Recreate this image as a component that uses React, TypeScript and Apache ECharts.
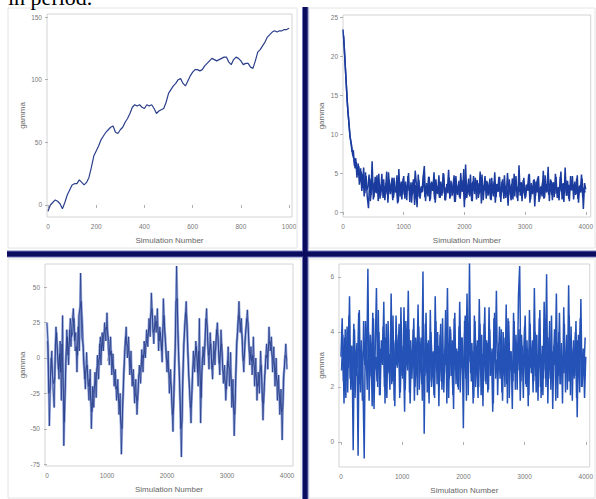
import { useEffect, useRef } from 'react';
import * as echarts from 'echarts';

const headerText = 'in period.';
const xName = 'Simulation Number';
const yName = 'gamma';

// Top-left trace: gamma every 10 simulations (0..1000)
const tlValues = [
  -5, 0, 2, 4, 3, 1, -3, 2, 8, 12,
  16, 17, 17, 20, 18, 16, 18, 22, 30, 39,
  43, 47, 52, 55, 58, 60, 62, 63, 58, 57,
  60, 62, 66, 69, 73, 78, 80, 79, 80, 78,
  77, 80, 79, 80, 77, 73, 75, 76, 77, 82,
  89, 92, 95, 97, 100, 101, 97, 95, 99, 103,
  106, 108, 108, 107, 108, 111, 113, 115, 117, 116,
  115, 116, 117, 118, 118, 114, 112, 116, 118, 117,
  115, 112, 113, 113, 110, 109, 115, 122, 124, 127,
  130, 134, 136, 138, 139, 138, 139, 139, 140, 140,
  141,
];

// Top-right trace: gamma at simulations 0, 20, 40 ... 4000
const trValuesEven = [
  23.4, 21.2, 18.3, 15.6, 12.9, 11.2, 9.4, 8.6, 7.3, 6.8,
  5.6, 6.4, 4.8, 5.9, 3.9, 5.2, 3.1, 5.7, 2.4, 4.6,
  1.9, 0.5, 4.3, 2.2, 6.5, 1.6, 3.8, 2.5, 4.7, 1.4,
  3.6, 2.1, 4.9, 1.8, 3.3, 2.6, 5.2, 1.2, 4.1, 2.3,
  3.7, 1.5, 4.4, 2.8, 3.2, 1.1, 5.5, 2.0, 3.9, 2.4,
  4.6, 1.7, 3.4, 2.9, 5.0, 1.3, 3.8, 2.2, 4.2, 0.9,
  3.5, 0.6, 4.8, 1.9, 3.1, 2.5, 4.4, 5.9, 1.4, 3.7,
  2.0, 4.5, 1.6, 3.9, 2.7, 5.1, 1.2, 3.4, 2.3, 4.7,
  1.8, 3.6, 2.4, 4.9, 1.5, 3.2, 2.8, 5.4, 1.7, 4.0,
  2.1, 3.8, 1.3, 4.6, 2.5, 3.3, 1.9, 5.0, 2.6, 4.1,
  0.6, 6.1, 1.8, 3.5, 2.2, 4.8, 1.4, 3.9, 2.7, 4.4,
  1.6, 3.7, 2.3, 5.2, 1.1, 3.4, 2.9, 4.6, 1.7, 3.8,
  2.4, 4.3, 1.5, 3.6, 2.0, 5.1, 1.9, 3.2, 2.6, 4.5,
  1.3, 3.9, 2.5, 4.7, 1.8, 3.4, 0.8, 4.2, 2.2, 3.6,
  1.6, 4.9, 2.7, 3.3, 1.4, 6.0, 2.1, 3.8, 2.4, 4.4,
  1.7, 3.5, 2.9, 4.8, 1.2, 3.7, 2.3, 4.1, 0.7, 3.9,
  2.5, 4.6, 1.6, 3.3, 2.0, 5.3, 1.8, 3.6, 2.6, 5.8,
  1.4, 4.2, 2.2, 3.8, 1.9, 4.9, 2.4, 3.1, 1.5, 4.5,
  2.7, 3.6, 1.3, 5.7, 2.1, 4.0, 1.7, 3.5, 2.8, 4.6,
  1.6, 3.9, 2.3, 4.7, 1.2, 3.4, 2.5, 4.3, 0.4, 3.7,
  2.9,
];
// Top-right trace: gamma at simulations 10, 30, 50 ... 3990
const trValuesOdd = [
  22.6, 19.8, 17.0, 14.1, 12.2, 10.1, 9.0, 7.7, 7.9, 5.9,
  6.9, 4.4, 6.2, 3.5, 5.6, 2.7, 4.9, 2.0, 5.1, 2.8,
  3.2, 4.8, 1.4, 2.9, 3.6, 1.9, 4.5, 2.4, 3.1, 4.9,
  1.7, 3.4, 2.6, 4.2, 1.5, 3.7, 2.3, 5.1, 2.8, 3.3,
  4.4, 1.8, 3.0, 2.5, 4.7, 1.3, 3.6, 2.9, 1.6, 4.3,
  2.2, 3.9, 1.5, 4.6, 2.7, 3.2, 1.2, 3.8, 2.4, 5.3,
  3.5, 2.0, 4.1, 1.7, 3.3, 2.6, 4.9, 1.9, 3.0, 2.3,
  4.5, 1.4, 3.7, 2.8, 3.4, 1.6, 4.2, 2.5, 3.1, 1.8,
  3.9, 2.1, 5.0, 2.7, 1.5, 3.6, 2.4, 4.4, 1.9, 3.3,
  2.9, 4.7, 1.3, 3.5, 2.2, 4.0, 1.7, 3.8, 2.6, 5.5,
  1.6, 3.2, 2.8, 4.3, 2.0, 3.7, 1.4, 4.6, 2.3, 3.4,
  4.1, 1.8, 3.0, 2.5, 4.8, 1.5, 3.5, 2.7, 4.0, 2.1,
  3.3, 1.6, 4.4, 2.4, 3.9, 1.2, 3.6, 2.9, 4.5, 1.9,
  2.6, 4.2, 1.7, 3.4, 2.2, 5.0, 2.8, 3.1, 1.5, 4.3,
  3.7, 2.0, 4.6, 1.8, 3.2, 2.6, 3.8, 1.4, 4.1, 2.3,
  1.9, 3.5, 2.7, 4.9, 1.6, 3.3, 2.4, 4.2, 2.0, 3.6,
  4.4, 1.3, 3.1, 2.8, 3.9, 1.7, 4.7, 2.5, 3.4, 2.2,
  2.9, 4.0, 1.5, 3.8, 2.3, 4.5, 1.8, 3.2, 2.6, 5.2,
  1.6, 3.7, 2.4, 4.1, 2.1, 3.5, 1.4, 4.6, 2.8, 3.0,
  3.6, 2.2, 4.3, 1.7, 3.3, 2.7, 4.8, 1.9, 3.1, 2.5,
];

// Bottom-left trace: gamma at simulations 0, 20 ... 4000
const blValuesEven = [
  25, 8, -48, -12, 5, -20, -35, 10, 18, 2,
  -15, 12, -30, 30, -62, -25, 5, 15, -5, 20,
  8, 25, 35, 12, 18, -10, 22, 5, 60, 15,
  10, -5, -22, 4, -15, -30, -8, -50, -20, -35,
  -10, -28, 2, -15, 10, -5, 18, 5, 25, 12,
  32, 8, -5, 15, -12, 3, -20, -8, -30, -15,
  -40, -25, -68, -35, -10, 8, 22, 0, 15, -12,
  5, -20, -8, -32, -15, -40, -22, -5, -18, 6,
  -10, 12, 0, 20, 8, 28, 15, 46, 25, 10,
  30, 18, 35, 5, 22, 12, -3, 42, 20, 8,
  -10, 5, -25, -8, -30, -52, -15, 10, 65, 20,
  -5, -30, -70, -20, 10, 25, 40, 15, -10, -25,
  -46, -18, 5, -10, 12, 2, -20, 28, -46, -10,
  8, -5, 20, 35, 10, -8, 18, 0, -15, 12,
  -5, 15, 25, 5, -12, 20, 2, -18, -5, -30,
  -12, 8, -20, 4, -35, -15, -55, -25, 10, 20,
  40, 18, 28, 5, -10, 12, 22, 34, 15, -5,
  8, -12, 15, -20, 0, -30, -10, -25, 5, -15,
  -44, -20, -5, 10, -8, 22, 5, 15, -10, 8,
  -20, 0, -30, -12, -40, -22, -58, -15, -5, 10,
  -8,
];
// Bottom-left trace: gamma at simulations 10, 30 ... 3990
const blValuesOdd = [
  12, -25, -22, 0, -12, -18, -15, 22, 5, -8,
  3, -10, 10, -20, -45, -12, 20, 2, 12, 28,
  15, 18, 28, 5, 8, 2, 30, 35, 40, 25,
  -2, -15, -8, -5, -20, -15, -30, -38, -25, -20,
  -18, -8, -5, 0, 15, 5, 12, 18, 20, 22,
  18, 12, 2, 5, -5, -8, -12, -22, -20, -28,
  -32, -45, -50, -25, -2, 15, 10, 8, 2, -5,
  -10, -15, -20, -25, -28, -30, -12, -10, -5, 2,
  0, 6, 10, 14, 18, 22, 30, 35, 18, 20,
  24, 26, 20, 12, 18, 5, 18, 30, 15, 0,
  -2, -10, -15, -20, -40, -35, -5, 40, 42, 8,
  -18, -50, -45, -5, 18, 32, 28, 2, -18, -35,
  -30, -8, -2, 2, 8, -10, 5, -10, -28, 0,
  2, 8, 28, 22, 2, 5, 10, -8, -2, 4,
  6, 20, 15, -4, 5, 10, -8, -12, -18, -22,
  -2, -6, -8, -15, -25, -35, -40, -8, 15, 30,
  28, 22, 16, -2, 2, 18, 28, 25, 5, 2,
  -2, 2, -5, -10, -15, -20, -18, -10, -5, -30,
  -32, -12, 2, 0, 8, 12, 10, 2, -2, -5,
  -10, -15, -20, -25, -32, -38, -35, -10, 2, 0,
];

// Bottom-right trace: gamma at simulations 0, 20 ... 4000
const brValuesEven = [
  3.1, 4.5, 2.2, 3.8, 1.6, 4.2, 2.7, 5.3, 1.9, 3.5,
  -0.3, 4.1, 2.4, 3.6, -0.5, 4.8, 1.8, 3.3, 2.1, -0.6,
  4.4, 2.6, 6.3, 1.5, 3.9, 2.3, 4.7, 1.2, 3.4, 5.6,
  2.0, 4.0, 1.7, 3.7, 2.8, 5.1, 1.4, 4.3, 2.5, 3.2,
  1.9, 5.4, 2.2, 3.6, 1.3, 4.6, 2.7, 3.9, 1.6, 4.9,
  2.4, 3.3, 1.1, 4.4, 2.9, 5.5, 1.8, 3.7, 2.3, 4.1,
  1.5, 3.8, 2.6, 5.0, 1.9, 3.5, 2.1, 6.2, 0.3, 4.3,
  2.5, 3.6, 1.4, 4.8, 2.0, 3.2, 1.7, 5.3, 2.6, 4.0,
  1.3, 3.9, 2.2, 4.5, 1.8, 3.4, 2.8, 5.6, 1.6, 4.2,
  2.4, 3.7, 1.2, 4.7, 2.1, 3.3, 1.9, 5.1, 2.7, 3.8,
  0.5, 4.4, 2.3, 5.4, 1.7, 6.5, 2.5, 3.6, 1.4, 4.6,
  2.0, 3.5, 1.6, 5.2, 2.6, 3.9, 1.3, 4.3, 2.2, 3.7,
  1.8, 4.9, 2.4, 3.2, 1.1, 4.5, 2.9, 5.5, 1.7, 3.6,
  2.3, 4.1, 1.5, 3.8, 2.0, 5.0, 1.4, 4.4, 2.6, 3.3,
  1.2, 4.7, 2.5, 3.9, 1.9, 5.3, 6.4, 2.2, 3.5, 1.6,
  4.2, 2.1, 3.7, 1.3, 4.8, 2.7, 3.4, 1.8, 5.6, 2.4,
  3.9, 1.5, 4.5, 2.0, 3.2, 1.7, 5.1, 2.6, 6.1, 1.4,
  3.8, 2.3, 4.6, 1.2, 3.5, 2.8, 5.4, 1.6, 4.0, 2.1,
  3.6, 1.4, 4.9, 2.5, 3.3, 1.9, 5.7, 2.2, 4.2, 1.5,
  3.7, 2.4, 4.4, 0.9, 3.9, 1.8, 5.2, 2.0, 3.4, 1.6,
  3.1,
];
// Bottom-right trace: gamma at simulations 10, 30 ... 3990
const brValuesOdd = [
  2.6, 3.9, 1.4, 4.1, 3.0, 1.8, 4.6, 2.3, 3.5, 2.0,
  4.3, 1.6, 3.2, 2.7, 4.7, 2.1, 3.7, 1.5, 4.4, 2.8,
  3.3, 1.9, 4.0, 2.4, 3.6, 1.3, 4.5, 2.6, 3.1, 2.2,
  4.8, 1.7, 3.4, 2.9, 4.2, 2.0, 3.8, 1.6, 4.4, 2.5,
  3.2, 2.1, 4.6, 1.5, 3.7, 2.8, 3.0, 4.3, 1.8, 3.5,
  2.3, 4.9, 1.9, 3.6, 2.6, 4.1, 1.4, 3.3, 2.7, 4.5,
  2.0, 3.4, 1.7, 4.2, 2.9, 3.8, 1.5, 3.1, 2.4, 4.7,
  1.8, 3.7, 2.2, 4.0, 2.8, 3.3, 1.6, 4.4, 2.1, 3.5,
  2.7, 4.3, 1.9, 3.2, 2.5, 4.8, 1.4, 3.6, 2.3, 4.1,
  3.0, 1.7, 4.5, 2.6, 3.4, 2.0, 4.2, 1.8, 3.8, 2.4,
  3.1, 4.6, 1.5, 3.5, 2.9, 4.0, 2.2, 3.3, 1.6, 4.4,
  2.5, 3.7, 2.0, 4.3, 1.7, 3.2, 2.8, 4.9, 2.1, 3.6,
  1.9, 4.1, 2.6, 3.4, 1.4, 4.7, 2.3, 3.0, 2.7, 4.2,
  3.5, 1.8, 4.0, 2.4, 3.8, 2.1, 4.5, 1.6, 3.3, 2.9,
  2.2, 4.4, 1.9, 3.6, 2.6, 4.1, 1.5, 3.9, 2.8, 3.2,
  4.6, 2.0, 3.4, 1.7, 4.3, 2.5, 3.7, 2.2, 4.0, 1.8,
  3.1, 2.7, 4.8, 1.6, 3.5, 2.3, 4.2, 2.0, 3.8, 2.6,
  4.4, 1.9, 3.3, 2.8, 4.1, 1.5, 3.6, 2.4, 4.7, 2.1,
  3.0, 2.5, 4.3, 1.8, 3.9, 2.2, 4.6, 1.7, 3.4, 2.9,
  2.3, 4.0, 1.6, 3.7, 2.7, 4.5, 2.0, 3.2, 2.6, 3.8,
];

const tlStep = 10;
const longStep = 20;

const tlTicksX = [0, 200, 400, 600, 800, 1000];
const tlTicksY = [0, 50, 100, 150];
const longTicksX = [0, 1000, 2000, 3000, 4000];
const trTicksY = [0, 5, 10, 15, 20, 25];
const blTicksY = [-75, -50, -25, 0, 25, 50];
const brTicksY = [0, 2, 4, 6];

const FONT = '"Liberation Sans", Arial, sans-serif';
const NAVY = '#0c0c5e';

function pairs(values: number[], step: number, offset: number) {
  return values.map((v, i) => [offset + i * step, v]);
}

function xAxisOf(gridIndex: number, min: number, max: number, ticks: number[]) {
  return {
    type: 'value',
    gridIndex,
    min,
    max,
    name: xName,
    nameLocation: 'middle',
    nameGap: 19,
    nameTextStyle: { fontSize: 8, color: '#666', fontFamily: FONT },
    axisLine: { show: false },
    axisTick: { show: true, length: 3, lineStyle: { color: '#b0b0b0' }, customValues: ticks },
    axisLabel: {
      customValues: ticks, margin: 6, fontSize: 6.5, color: '#777', fontFamily: FONT,
      formatter: (v: number) => String(v),
    },
    splitLine: { show: false },
  };
}

function yAxisOf(gridIndex: number, min: number, max: number, ticks: number[], nameGap: number) {
  return {
    type: 'value',
    gridIndex,
    min,
    max,
    name: yName,
    nameLocation: 'middle',
    nameGap,
    nameTextStyle: { fontSize: 8, color: '#666', fontFamily: FONT },
    axisLine: { show: false },
    axisTick: { show: true, length: 3, lineStyle: { color: '#b0b0b0' }, customValues: ticks },
    axisLabel: {
      customValues: ticks, margin: 5, fontSize: 6.5, color: '#777', fontFamily: FONT,
      formatter: (v: number) => String(v),
    },
    splitLine: { show: false },
  };
}

function trace(grid: number, data: number[][], color: string, width: number, opacity = 1) {
  return {
    type: 'line', xAxisIndex: grid, yAxisIndex: grid, symbol: 'none', showSymbol: false,
    data, lineStyle: { color, width, opacity },
  };
}

export default function App() {
  const ref = useRef<HTMLDivElement>(null);

  useEffect(() => {
    if (!ref.current) return;
    const chart = echarts.init(ref.current, undefined, { renderer: 'svg' });

    const gridBase = { show: true, borderColor: '#d4d4d4', borderWidth: 1, backgroundColor: '#fff' };
    const half = longStep / 2;

    const option: any = {
      animation: false,
      backgroundColor: '#fff',
      grid: [
        { ...gridBase, left: 47, top: 14, width: 245, height: 203 },
        { ...gridBase, left: 343, top: 15, width: 248, height: 202 },
        { ...gridBase, left: 45, top: 264, width: 248, height: 202 },
        { ...gridBase, left: 339, top: 264, width: 254, height: 203 },
      ],
      xAxis: [
        xAxisOf(0, -4, 1012, tlTicksX),
        xAxisOf(1, 0, 4082, longTicksX),
        xAxisOf(2, -33, 4100, longTicksX),
        xAxisOf(3, -32, 4065, longTicksX),
      ],
      yAxis: [
        yAxisOf(0, -9.6, 152.4, tlTicksY, 21),
        yAxisOf(1, -0.64, 25.26, trTicksY, 18),
        yAxisOf(2, -76.3, 66.4, blTicksY, 17),
        yAxisOf(3, -0.91, 6.47, brTicksY, 14),
      ],
      series: [
        trace(0, pairs(tlValues, tlStep, 0), '#2b3f8c', 1.2),
        trace(1, pairs(trValuesEven, longStep, 0), '#1b3c9e', 1.5),
        trace(1, pairs(trValuesOdd, longStep, half), '#1b3c9e', 1.5),
        trace(2, pairs(blValuesEven, longStep, 0), '#a3b5e4', 2.4),
        trace(2, pairs(blValuesOdd, longStep, half), '#a3b5e4', 2.4),
        trace(2, pairs(blValuesEven, longStep, 0), '#2a3f8a', 0.8),
        trace(2, pairs(blValuesOdd, longStep, half), '#2a3f8a', 0.8),
        trace(3, pairs(brValuesEven, longStep, 0), '#2452b6', 1.5),
        trace(3, pairs(brValuesOdd, longStep, half), '#2452b6', 1.5),
      ],
      graphic: [
        { type: 'rect', shape: { x: 8, y: 8, width: 289, height: 240 }, style: { fill: 'none', stroke: '#e4e4e4', lineWidth: 1 }, z: 1 },
        { type: 'rect', shape: { x: 309, y: 8, width: 286, height: 240 }, style: { fill: 'none', stroke: '#e4e4e4', lineWidth: 1 }, z: 1 },
        { type: 'rect', shape: { x: 8, y: 259, width: 293, height: 239 }, style: { fill: 'none', stroke: '#e4e4e4', lineWidth: 1 }, z: 1 },
        { type: 'rect', shape: { x: 309, y: 259, width: 286, height: 239 }, style: { fill: 'none', stroke: '#e4e4e4', lineWidth: 1 }, z: 1 },
        { type: 'rect', shape: { x: 302, y: 7, width: 6.5, height: 492 }, style: { fill: '#6f74b8' }, z: 100 },
        { type: 'rect', shape: { x: 7, y: 250.5, width: 589, height: 7 }, style: { fill: '#6f74b8' }, z: 100 },
        { type: 'rect', shape: { x: 303, y: 7, width: 4.5, height: 492 }, style: { fill: NAVY }, z: 101 },
        { type: 'rect', shape: { x: 7, y: 251.5, width: 589, height: 5 }, style: { fill: NAVY }, z: 101 },
        {
          type: 'text', x: 8, y: 8, z: 102,
          style: { text: headerText, font: '22px "Liberation Serif", serif', fill: '#000', align: 'left', verticalAlign: 'bottom' },
        },
      ],
    };

    chart.setOption(option);
    return () => chart.dispose();
  }, []);

  return <div ref={ref} style={{ position: 'fixed', left: 0, top: 0, width: 596, height: 499 }} />;
}
